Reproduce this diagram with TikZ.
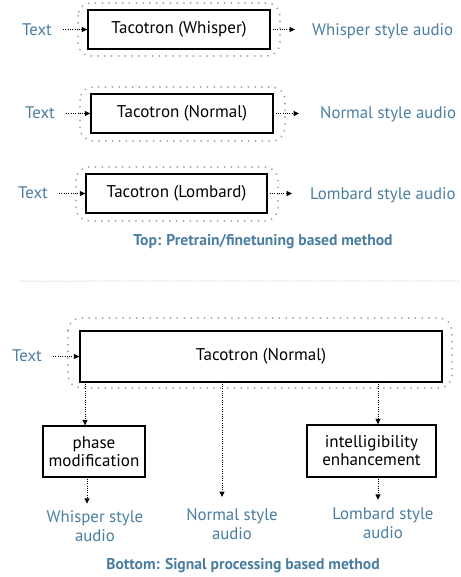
\documentclass[tikz,border=0pt]{standalone}
\usepackage{fontspec}
\setmainfont{PT Sans}
\usetikzlibrary{arrows.meta,positioning}
\definecolor{lblue}{HTML}{4A7EA0}
\tikzset{
  box/.style={draw=black,line width=1.3bp,fill=white,inner sep=0pt,align=center,font=\fontsize{17bp}{18bp}\selectfont},
  lbl/.style={text=lblue,inner sep=0pt,align=center,font=\fontsize{16.8bp}{19bp}\selectfont},
  captxt/.style={text=lblue,inner sep=0pt,font=\bfseries\fontsize{15.6bp}{18bp}\selectfont},
  outline/.style={draw=gray!75,line width=2bp,line cap=round,dash pattern=on 0bp off 6.8bp,rounded corners=13bp},
  arr/.style={draw=black,line width=1bp,dash pattern=on 1bp off 1.3bp,-{Triangle[length=5.5bp,width=5bp]}},
  sepline/.style={draw=lblue!80,line width=1bp,line cap=round,dash pattern=on 0bp off 3bp}
}
\begin{document}
\begin{tikzpicture}[x=1bp,y=-1bp]
\useasboundingbox (0,0) rectangle (461,577);
% top row 1
\draw[outline] (78,3) rectangle (280,56);
\node[box,minimum width=182bp,minimum height=39bp] (b1) at (179,29.5) {Tacotron (Whisper)};
\node[lbl,anchor=west] (t1) at (22,29.5) {Text};
\node[lbl,anchor=west] (o1) at (312,31) {Whisper style audio};
\draw[arr,shorten <=11bp] (t1.east) -- (b1.west);
\draw[arr,shorten <=2bp,shorten >=17bp] (b1.east) -- (b1.east -| o1.west);
% row 2
\draw[outline] (80,87) rectangle (285,141);
\node[box,minimum width=182bp,minimum height=39bp] (b2) at (182,113.5) {Tacotron (Normal)};
\node[lbl,anchor=west] (t2) at (25,112.5) {Text};
\node[lbl,anchor=west] (o2) at (320,114.5) {Normal style audio};
\draw[arr,shorten <=11bp] (t2.east |- b2.west) -- (b2.west);
\draw[arr,shorten <=2bp,shorten >=21bp] (b2.east) -- (b2.east -| o2.west);
% row 3
\draw[outline] (76,167) rectangle (278,221);
\node[box,minimum width=181bp,minimum height=39bp] (b3) at (176.5,193.5) {Tacotron (Lombard)};
\node[lbl,anchor=west] (t3) at (18,193) {Text};
\node[lbl,anchor=west] (o3) at (310,195) {Lombard style audio};
\draw[arr,shorten <=11bp] (t3.east |- b3.west) -- (b3.west);
\draw[arr,shorten <=2bp,shorten >=18bp] (b3.east) -- (b3.east -| o3.west);
\node[captxt] (c1) at (263,241.5) {Top: Pretrain/finetuning based method};
% separator
\coordinate (s1) at (20,281);
\coordinate (s2) at (459,281);
\draw[sepline] (s1) -- (s2);
% bottom
\draw[outline] (68,318) rectangle (452,388);
\node[box,minimum width=362bp,minimum height=51bp] (big) at (261,356.5) {Tacotron (Normal)};
\node[lbl,anchor=west] (t4) at (12,356) {Text};
\draw[arr,shorten <=11bp] (t4.east |- big.west) -- (big.west);
\node[box,minimum width=102bp,minimum height=51bp] (ph) at (94,451.5) {phase\\modification};
\node[box,minimum width=129bp,minimum height=52bp] (ie) at (371.5,451) {intelligibility\\enhancement};
\node[lbl] (wa) at (95,526.5) {Whisper style\\audio};
\node[lbl] (na) at (232,524.5) {Normal style\\audio};
\node[lbl] (la) at (383,523.5) {Lombard style\\audio};
\coordinate (x1) at (85,0);
\coordinate (x2) at (222,0);
\coordinate (x3) at (378,0);
\coordinate (x4) at (87,0);
\coordinate (m2) at (222,497);
\draw[arr,shorten <=1bp] (big.south -| x1) -- (ph.north -| x1);
\draw[arr,shorten <=1bp] (big.south -| x2) -- (m2);
\draw[arr,shorten <=1bp] (big.south -| x3) -- (ie.north -| x3);
\draw[arr,shorten <=1bp,shorten >=7bp] (ph.south -| x4) -- (wa.north -| x4);
\draw[arr,shorten <=1bp,shorten >=8bp] (ie.south -| x3) -- (la.north -| x3);
\node[captxt] (c2) at (243,566) {Bottom: Signal processing based method};
\end{tikzpicture}
\end{document}
